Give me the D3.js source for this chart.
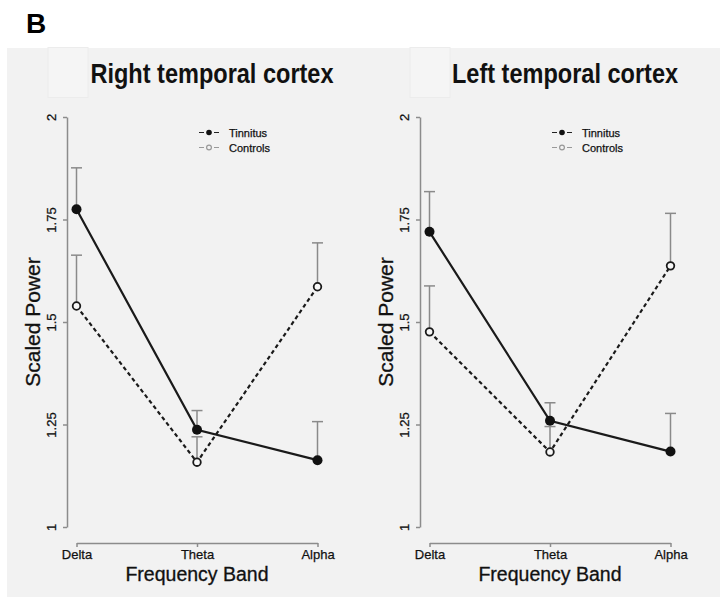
<!DOCTYPE html>
<html>
<head>
<meta charset="utf-8">
<script src="https://cdn.jsdelivr.net/npm/d3@7/dist/d3.min.js"></script>
<style>
    body{margin:0;background:#fff;}
    svg{display:block;font-family:"Liberation Sans", Arial, sans-serif;}
    .axis path, .axis line{stroke:#8c8c8c;stroke-width:1.5;}
    .axis text{fill:#111;stroke:#111;stroke-width:0.25;}
</style>
</head>
<body>
<svg id="chart" width="720" height="597"></svg>
<script>
// values
const bands = ["Delta", "Theta", "Alpha"];
const yTicks = [1, 1.25, 1.5, 1.75, 2];
const yTickLabels = ["1", "1.25", "1.5", "1.75", "2"];
const panelTitles = ["Right temporal cortex", "Left temporal cortex"];
const seriesNames = ["Tinnitus", "Controls"];

const rightTinnitus = [1.775, 1.237, 1.163];
const rightTinnitusUpper = [1.876, 1.284, 1.257];
const rightControls = [1.539, 1.158, 1.586];
const rightControlsUpper = [1.663, 1.22, 1.693];

const leftTinnitus = [1.720, 1.259, 1.184];
const leftTinnitusUpper = [1.818, 1.303, 1.277];
const leftControls = [1.476, 1.183, 1.637];
const leftControlsUpper = [1.588, 1.245, 1.765];

const TOP = 117, BOTTOM = 527, XAXIS_Y = 543;

function squeeze(sel, k){
    sel.each(function(){
        let w = this.getComputedTextLength();
        d3.select(this)
            .attr("textLength", w * k)
            .attr("lengthAdjust", "spacingAndGlyphs");
    });
}

let svg = d3.select("#chart");

// figure letter
svg.append("text")
    .attr("x", 26).attr("y", 33)
    .attr("font-size", 28).attr("font-weight", "bold")
    .text("B");

// grey plot background
svg.append("rect")
    .attr("x", 7).attr("y", 48)
    .attr("width", 713).attr("height", 549)
    .attr("fill", "#f2f2f2");

let panels = [
    {title: panelTitles[0], x0: 67, boxX: 48,
        tinnitus: rightTinnitus, tinnitusUpper: rightTinnitusUpper,
        controls: rightControls, controlsUpper: rightControlsUpper},
    {title: panelTitles[1], x0: 420, boxX: 410,
        tinnitus: leftTinnitus, tinnitusUpper: leftTinnitusUpper,
        controls: leftControls, controlsUpper: leftControlsUpper}
];

function drawPanel(p){
    let g = svg.append("g");
    let x = d3.scalePoint().domain(bands).range([p.x0 + 9.5, p.x0 + 250.5]);
    let y = d3.scaleLinear().domain([1, 2]).range([BOTTOM, TOP]);

    // faint square top left
    g.append("rect")
        .attr("x", p.boxX).attr("y", 47.5)
        .attr("width", 40).attr("height", 50)
        .attr("fill", "#f5f5f5")
        .attr("stroke", "#ececec");

    // title
    g.append("text")
        .attr("x", p.x0 + 145).attr("y", 83)
        .attr("text-anchor", "middle")
        .attr("font-size", 28).attr("font-weight", "bold")
        .attr("fill", "#111")
        .text(p.title)
        .call(squeeze, 0.84);

    // y axis
    let yAxis = d3.axisLeft(y)
        .tickValues(yTicks)
        .tickFormat((d, i) => yTickLabels[i])
        .tickSize(4)
        .tickSizeOuter(0);

    let yG = g.append("g")
        .attr("class", "axis axis-y")
        .attr("transform", `translate(${p.x0},0)`)
        .call(yAxis)
        .attr("font-family", null)
        .attr("font-size", 13);

    yG.selectAll(".tick text")
        .attr("transform", "rotate(-90)")
        .attr("x", 0).attr("y", -11).attr("dy", 0)
        .attr("text-anchor", "middle");

    // x axis
    let xAxis = d3.axisBottom(x)
        .tickSize(4)
        .tickSizeOuter(0)
        .tickPadding(3);

    g.append("g")
        .attr("class", "axis axis-x")
        .attr("transform", `translate(0,${XAXIS_Y})`)
        .call(xAxis)
        .attr("font-family", null)
        .attr("font-size", 13);

    // axis titles
    g.append("text")
        .attr("transform", `translate(${p.x0 - 27},322) rotate(-90)`)
        .attr("text-anchor", "middle")
        .attr("font-size", 21)
        .attr("fill", "#111")
        .attr("stroke", "#111").attr("stroke-width", 0.3)
        .text("Scaled Power");

    g.append("text")
        .attr("x", x("Theta")).attr("y", 581)
        .attr("text-anchor", "middle")
        .attr("font-size", 19.5)
        .attr("fill", "#111")
        .attr("stroke", "#111").attr("stroke-width", 0.3)
        .text("Frequency Band");

    // error bars (upper only)
    let bars = [];
    bands.forEach((b, i) => {
        bars.push({band: b, v: p.controls[i], up: p.controlsUpper[i]});
        bars.push({band: b, v: p.tinnitus[i], up: p.tinnitusUpper[i]});
    });

    let eb = g.append("g").attr("class", "errorbars")
        .attr("stroke", "#8a8a8a").attr("stroke-width", 1.5);

    eb.selectAll("line.stem")
        .data(bars)
        .enter().append("line")
            .attr("class", "stem")
            .attr("x1", d => x(d.band)).attr("x2", d => x(d.band))
            .attr("y1", d => y(d.v)).attr("y2", d => y(d.up));

    eb.selectAll("line.cap")
        .data(bars)
        .enter().append("line")
            .attr("class", "cap")
            .attr("x1", d => x(d.band) - 5.5).attr("x2", d => x(d.band) + 5.5)
            .attr("y1", d => y(d.up)).attr("y2", d => y(d.up));

    // lines
    let line = d3.line()
        .x((d, i) => x(bands[i]))
        .y(d => y(d));

    g.append("path")
        .attr("d", line(p.controls))
        .attr("fill", "none")
        .attr("stroke", "#1a1a1a")
        .attr("stroke-width", 2.2)
        .attr("stroke-dasharray", "4,3");

    g.append("path")
        .attr("d", line(p.tinnitus))
        .attr("fill", "none")
        .attr("stroke", "#1a1a1a")
        .attr("stroke-width", 2.2);

    // points
    g.selectAll("circle.controls")
        .data(p.controls)
        .enter().append("circle")
            .attr("class", "controls")
            .attr("cx", (d, i) => x(bands[i]))
            .attr("cy", d => y(d))
            .attr("r", 3.8)
            .attr("fill", "#f8f8f8")
            .attr("stroke", "#1a1a1a")
            .attr("stroke-width", 1.8);

    g.selectAll("circle.tinnitus")
        .data(p.tinnitus)
        .enter().append("circle")
            .attr("class", "tinnitus")
            .attr("cx", (d, i) => x(bands[i]))
            .attr("cy", d => y(d))
            .attr("r", 5)
            .attr("fill", "#111");

    // legend
    let legend = g.append("g")
        .attr("transform", `translate(${p.x0 + 142},0)`);
    let legendY = [132.5, 147.5];
    let legendColor = ["#222", "#999"];

    seriesNames.forEach((name, i) => {
        legend.append("line")
            .attr("x1", -10).attr("x2", 10)
            .attr("y1", legendY[i]).attr("y2", legendY[i])
            .attr("stroke", legendColor[i])
            .attr("stroke-width", 1.2)
            .attr("stroke-dasharray", "5,10,5");
        legend.append("circle")
            .attr("cx", 0).attr("cy", legendY[i])
            .attr("r", i === 0 ? 2.8 : 2.4)
            .attr("fill", i === 0 ? "#111" : "#f2f2f2")
            .attr("stroke", legendColor[i])
            .attr("stroke-width", i === 0 ? 0 : 1.2);
        legend.append("text")
            .attr("x", 20).attr("y", legendY[i] + 4)
            .attr("font-size", 11)
            .attr("fill", "#111")
            .attr("stroke", "#111").attr("stroke-width", 0.25)
            .text(name);
    });
}

panels.forEach(drawPanel);
</script>
</body>
</html>
